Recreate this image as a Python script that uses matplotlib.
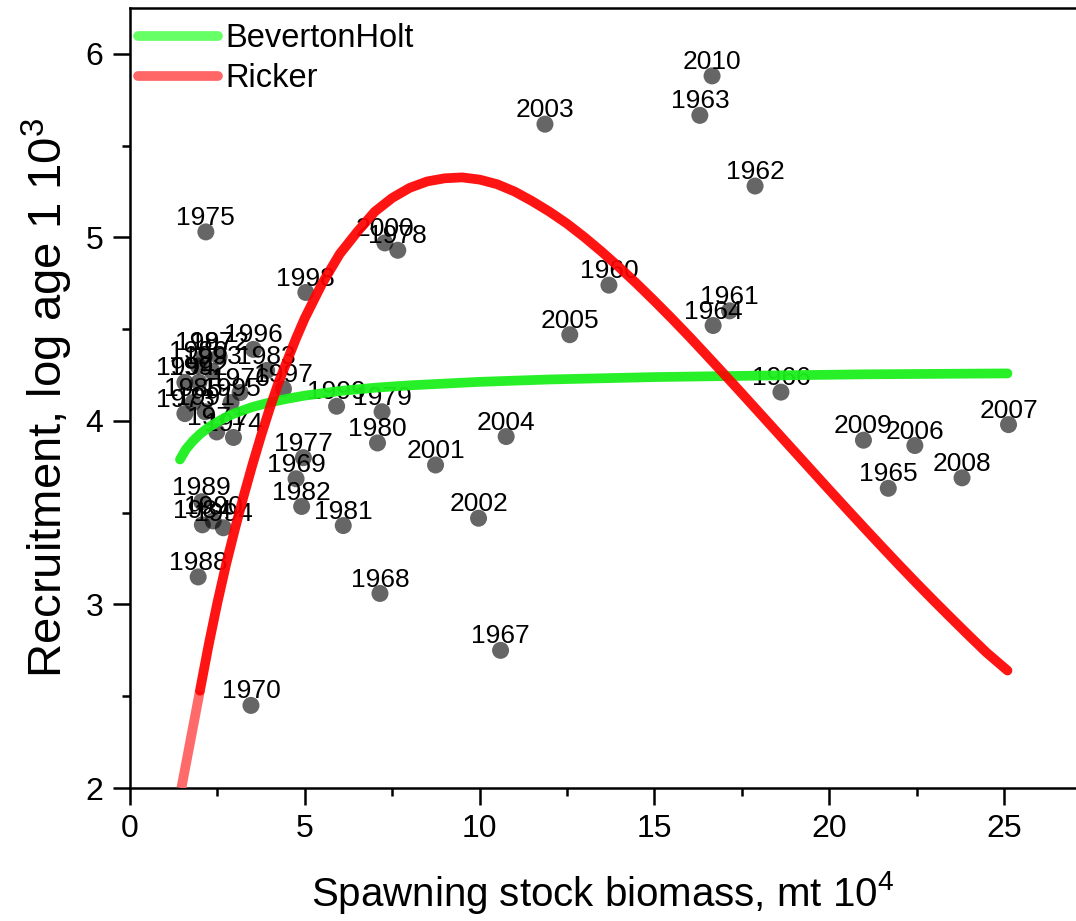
import matplotlib
matplotlib.use("Agg")
import matplotlib.pyplot as plt
from matplotlib.lines import Line2D
from matplotlib.ticker import MultipleLocator

plt.rcParams['font.family'] = ['Liberation Sans', 'DejaVu Sans']
plt.rcParams['mathtext.fontset'] = 'custom'
plt.rcParams['mathtext.rm'] = 'Liberation Sans'
plt.rcParams['mathtext.default'] = 'rm'

# ---- observed stock-recruitment points ----
years = ['2010', '1963', '2003', '1962', '1975', '2000', '1978', '1998', '1960',
         '1961', '1964', '2005', '1966', '2009', '2006', '2007', '2008', '1965',
         '2004', '2001', '2002', '1967', '1968', '1970', '1999', '1979', '1980',
         '1977', '1969', '1982', '1981', '1997', '1983', '1996', '1987', '1972',
         '1986', '1993', '1994', '1992', '1976', '1985', '1995', '1973', '1991',
         '1971', '1974', '1989', '1984', '1990', '1988', '1994']
ssb = [16.65, 16.30, 11.87, 17.88, 2.17, 7.29, 7.66, 5.03, 13.70,
       17.15, 16.68, 12.58, 18.62, 20.98, 22.45, 25.13, 23.80, 21.69,
       10.76, 8.74, 9.97, 10.60, 7.15, 3.46, 5.91, 7.21, 7.08,
       4.96, 4.75, 4.91, 6.10, 4.39, 3.91, 3.53, 2.12, 2.55,
       1.95, 2.35, 1.57, 1.97, 3.15, 1.80, 2.89, 1.57, 2.15,
       2.48, 2.96, 2.05, 2.07, 2.38, 1.95, 2.67]
recruit = [5.88, 5.665, 5.617, 5.28, 5.03, 4.97, 4.93, 4.70, 4.74,
           4.60, 4.52, 4.47, 4.157, 3.895, 3.866, 3.98, 3.69, 3.633,
           3.915, 3.76, 3.47, 2.75, 3.06, 2.45, 4.08, 4.05, 3.88,
           3.80, 3.685, 3.534, 3.43, 4.175, 4.275, 4.39, 4.35, 4.35,
           4.30, 4.27, 4.21, 4.21, 4.155, 4.10, 4.10, 4.04, 4.05,
           3.94, 3.91, 3.56, 3.434, 3.455, 3.15, 3.418]

# ---- fitted curves ----
bh_ssb = [1.43, 1.6, 1.8, 2.0, 2.25, 2.5, 2.75, 3.0, 3.5, 4.0, 4.5, 5.0, 6.0, 7.0, 8.0,
          10.0, 12.0, 15.0, 18.0, 21.0, 25.1]
bh_rec = [3.79, 3.846, 3.891, 3.928, 3.965, 3.995, 4.021, 4.042, 4.076, 4.101, 4.121, 4.138,
          4.163, 4.181, 4.194, 4.213, 4.226, 4.239, 4.247, 4.254, 4.259]

rk_ssb = [1.47, 1.75, 2.0, 2.25, 2.5, 2.75, 3.0, 3.25, 3.5, 3.75, 4.0, 4.25, 4.5, 4.75, 5.0,
          5.5, 6.0, 6.5, 7.0, 7.5, 8.0, 8.5, 9.0, 9.5, 10.0, 10.5, 11.0, 11.5, 12.0, 12.5,
          13.0, 13.5, 14.0, 14.5, 15.0, 15.5, 16.0, 16.5, 17.0, 17.5, 18.0, 18.5, 19.0, 19.5,
          20.0, 20.5, 21.0, 21.5, 22.0, 22.5, 23.0, 23.5, 24.0, 24.5, 25.1]
rk_rec = [2.0, 2.28, 2.53, 2.78, 3.01, 3.22, 3.41, 3.59, 3.76, 3.92, 4.07, 4.21, 4.33, 4.45, 4.56,
          4.75, 4.91, 5.03, 5.14, 5.215, 5.27, 5.305, 5.322, 5.327, 5.315, 5.29, 5.25, 5.198, 5.14, 5.075,
          5.001, 4.921, 4.836, 4.747, 4.654, 4.558, 4.459, 4.357, 4.254, 4.150, 4.045, 3.940, 3.835, 3.730,
          3.625, 3.521, 3.418, 3.316, 3.215, 3.116, 3.019, 2.924, 2.830, 2.738, 2.64]

fig = plt.figure(figsize=(10.76, 9.21), dpi=100)
ax = fig.add_axes([130/1076, 1-788/921, (1076-130)/1076, (788-8)/921])
ax.set_xlim(0, 27.06)
ax.set_ylim(2, 6.25)

# points
ax.scatter(ssb, recruit, s=150, color='black', alpha=0.6, edgecolors='none', zorder=2)
for yr, x, y in zip(years, ssb, recruit):
    ax.annotate(yr, (x, y), xytext=(0, 5), textcoords='offset points',
                ha='center', va='baseline', fontsize=19, color='black', zorder=3)

# curves
ax.plot(bh_ssb, bh_rec, color='#1cf01c', lw=7, alpha=0.95, solid_capstyle='round', zorder=4)
n_pink = 3
ax.plot(rk_ssb[:n_pink], rk_rec[:n_pink], color='#ff6a6a', lw=7, solid_capstyle='butt', zorder=4)
ax.plot(rk_ssb[n_pink-1:], rk_rec[n_pink-1:], color='#ff0000', lw=7, alpha=0.92,
        solid_capstyle='round', zorder=4)

# legend
handles = [Line2D([], [], color='#66ff66', lw=7, solid_capstyle='round'),
           Line2D([], [], color='#ff6666', lw=7, solid_capstyle='round')]
ax.legend(handles, ['BevertonHolt', 'Ricker'], loc='upper left', frameon=False,
          fontsize=23.5, handlelength=2.45, handletextpad=0.25, labelspacing=0.28,
          borderaxespad=0.0, borderpad=0.15, bbox_to_anchor=(0.003, 0.987))

# axes styling
for side in ['left', 'bottom', 'top']:
    ax.spines[side].set_linewidth(1.8)
ax.spines['right'].set_visible(False)
ax.xaxis.set_major_locator(MultipleLocator(5))
ax.xaxis.set_minor_locator(MultipleLocator(2.5))
ax.yaxis.set_major_locator(MultipleLocator(1))
ax.yaxis.set_minor_locator(MultipleLocator(0.5))
ax.tick_params(which='major', direction='out', length=12, width=1.8, labelsize=23, pad=7)
ax.tick_params(which='minor', direction='out', length=6, width=1.8)
ax.tick_params(top=False, right=False)

ax.set_xlabel('Spawning stock biomass, mt 10$^4$', fontsize=29, labelpad=18)
ax.set_ylabel('Recruitment, log age 1 10$^3$', fontsize=34, labelpad=8)

fig.savefig('out.png', dpi=100)
